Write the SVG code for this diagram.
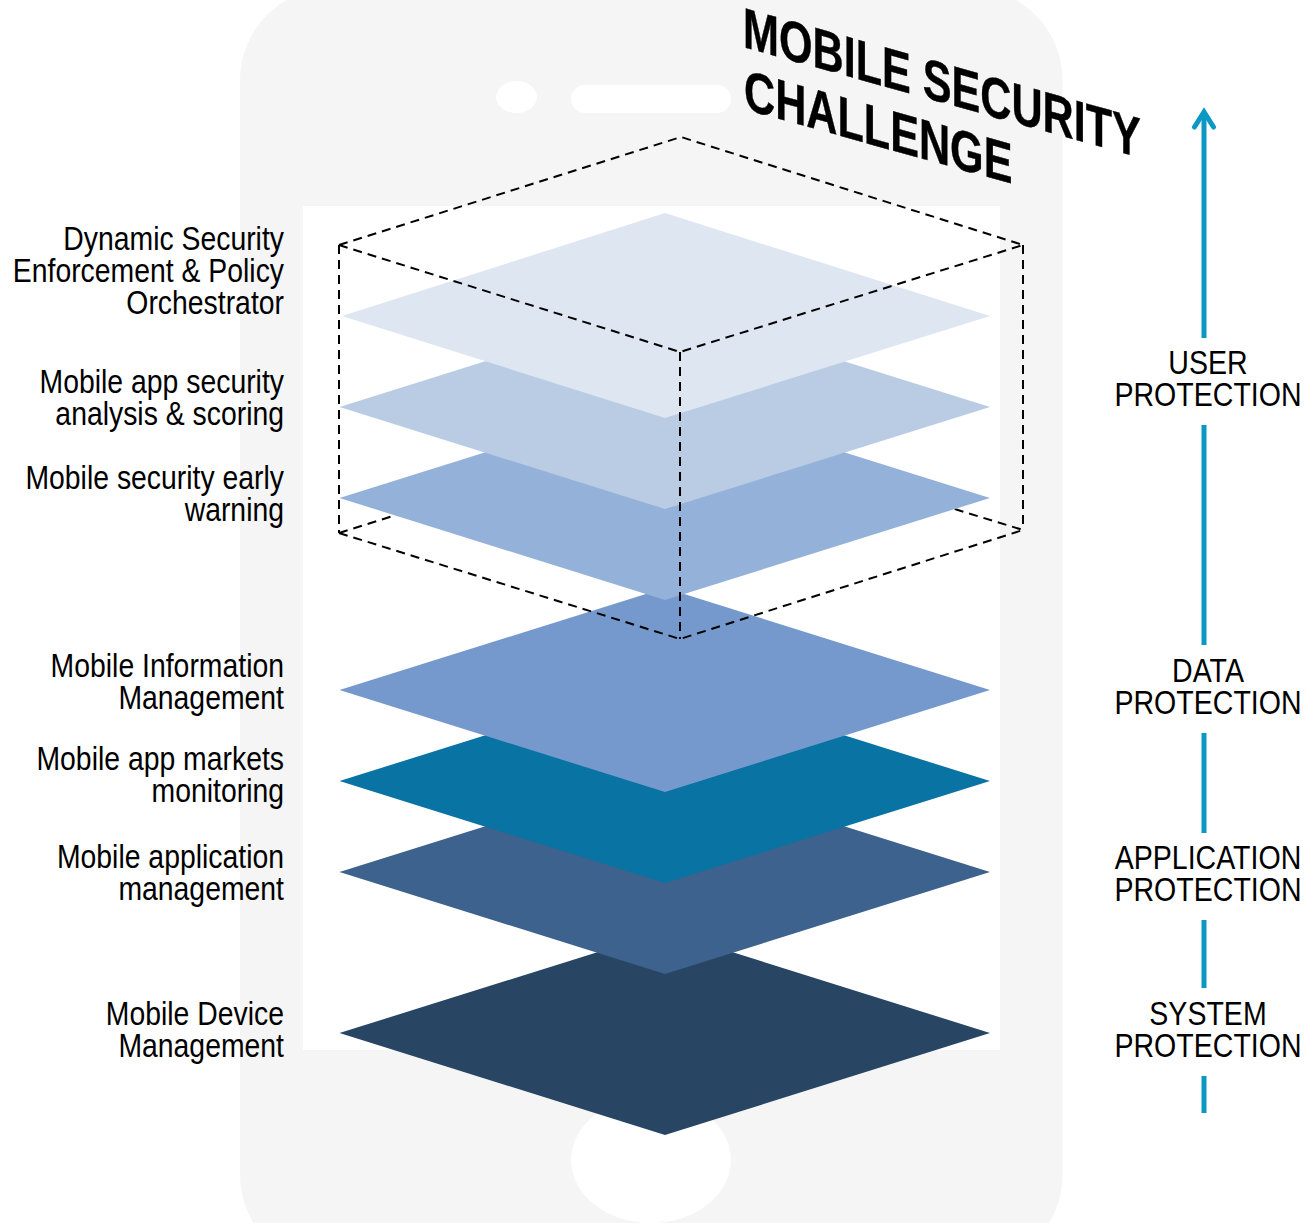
<svg xmlns="http://www.w3.org/2000/svg" width="1307" height="1223" viewBox="0 0 1307 1223">
<style>
.lab{font-family:"Liberation Sans",Arial,sans-serif;font-size:33px;fill:#000}
.l{text-anchor:end}
.m{text-anchor:middle}
.dash{fill:none;stroke:#000;stroke-width:2;stroke-dasharray:9 6}
.axis{fill:none;stroke:#0b98c3;stroke-width:5}
</style>
<rect width="1307" height="1223" fill="#fff"/>
<g id="phone">
<rect x="240" y="-12" width="822.500" height="1279" rx="92" fill="#f5f5f5"/>
<rect x="303" y="206" width="697" height="844" fill="#fff"/>
<ellipse cx="516.500" cy="97" rx="20.500" ry="16" fill="#fff"/>
<rect x="571" y="85" width="160" height="28" rx="14" fill="#fff"/>
<ellipse cx="651" cy="1160" rx="80" ry="63" fill="#fff"/>
</g>
<g id="connectors-back">
<path class="dash" d="M339 533L681 425L1023 530"/>
<path class="dash" d="M339 245L681 137L1023 245"/>
<path class="dash" d="M339 245V533M1023 245V530"/>
</g>
<g id="plane-device"><polygon points="665,931 990,1033 665,1135 339.500,1033" fill="#284664"/></g>
<g id="plane-appmgmt"><polygon points="665,770 990,872 665,974 339.500,872" fill="#3d628d"/></g>
<g id="plane-markets"><polygon points="665,679 990,781 665,883 339.500,781" fill="#0973a3"/></g>
<g id="plane-info"><polygon points="665,588 990,690 665,792 339.500,690" fill="#7599cd"/></g>
<g id="plane-warning"><polygon points="665,396 990,498 665,600 339.500,498" fill="#94b2d9"/></g>
<g id="plane-analysis"><polygon points="665,305 990,407 665,509 339.500,407" fill="#b9cce4"/></g>
<g id="plane-orchestrator"><polygon points="665,213 990,316 665,418 342,316" fill="#dee6f1"/></g>
<g id="connectors-front">
<path class="dash" d="M339 245L680 352L1023 245"/>
<path class="dash" d="M680 352V639"/>
<path class="dash" d="M339 533L680 639L1023 530"/>
</g>
<g id="axis">
<path class="axis" d="M1204 1113V1076M1204 988V920M1204 833V733M1204 645V425M1204 338V112"/>
<path class="axis" stroke-linecap="round" d="M1194.500 127L1204 112L1213.500 127"/>
</g>
<g id="title" font-family="'Liberation Sans',Arial,sans-serif" font-weight="700" font-size="57" fill="#000" stroke="#000" stroke-width=".4">
<text transform="matrix(0.757 0.211 0 1 743 47)">MOBILE SECURITY</text>
<text transform="matrix(0.757 0.211 0 1 744 109)">CHALLENGE</text>
</g>
<g id="labels-left">
<g id="label-orchestrator" transform="translate(284 0) scale(.86 1)"><text class="lab l" y="250">Dynamic Security</text><text class="lab l" y="282">Enforcement &amp; Policy</text><text class="lab l" y="314">Orchestrator</text></g>
<g id="label-analysis" transform="translate(284 0) scale(.86 1)"><text class="lab l" y="393">Mobile app security</text><text class="lab l" y="425">analysis &amp; scoring</text></g>
<g id="label-warning" transform="translate(284 0) scale(.86 1)"><text class="lab l" y="489">Mobile security early</text><text class="lab l" y="521">warning</text></g>
<g id="label-info" transform="translate(284 0) scale(.86 1)"><text class="lab l" y="677">Mobile Information</text><text class="lab l" y="709">Management</text></g>
<g id="label-markets" transform="translate(284 0) scale(.86 1)"><text class="lab l" y="770">Mobile app markets</text><text class="lab l" y="802">monitoring</text></g>
<g id="label-appmgmt" transform="translate(284 0) scale(.86 1)"><text class="lab l" y="868">Mobile application</text><text class="lab l" y="900">management</text></g>
<g id="label-device" transform="translate(284 0) scale(.86 1)"><text class="lab l" y="1025">Mobile Device</text><text class="lab l" y="1057">Management</text></g>
</g>
<g id="labels-right">
<g id="label-user" transform="translate(1208 0) scale(.865 1)"><text class="lab m" y="374">USER</text><text class="lab m" y="406">PROTECTION</text></g>
<g id="label-data" transform="translate(1208 0) scale(.865 1)"><text class="lab m" y="682">DATA</text><text class="lab m" y="714">PROTECTION</text></g>
<g id="label-application" transform="translate(1208 0) scale(.865 1)"><text class="lab m" y="869">APPLICATION</text><text class="lab m" y="901">PROTECTION</text></g>
<g id="label-system" transform="translate(1208 0) scale(.865 1)"><text class="lab m" y="1025">SYSTEM</text><text class="lab m" y="1057">PROTECTION</text></g>
</g>
</svg>
